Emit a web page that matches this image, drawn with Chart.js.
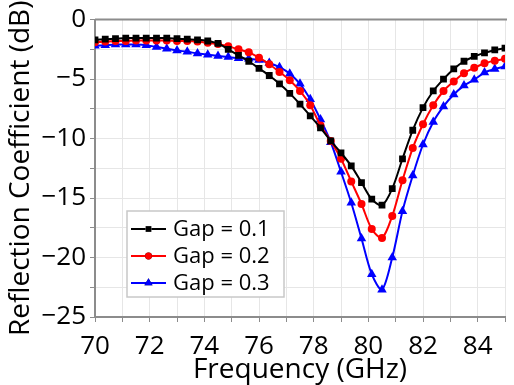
<!DOCTYPE html>
<html>
<head>
<meta charset="utf-8">
<script src="https://cdn.jsdelivr.net/npm/chart.js@4.4.1/dist/chart.umd.min.js"></script>
<style>
  html, body { margin: 0; padding: 0; background: #fff; }
  #wrap { width: 514px; height: 385px; }
</style>
</head>
<body>
<div id="wrap"><canvas id="grafico"></canvas></div>
<script>
// frecuencias 70 -> 85 GHz, paso 0.375
const frecuencias = [
  70, 70.375, 70.75, 71.125, 71.5, 71.875, 72.25, 72.625, 73, 73.375,
  73.75, 74.125, 74.5, 74.875, 75.25, 75.625, 76, 76.375, 76.75, 77.125,
  77.5, 77.875, 78.25, 78.625, 79, 79.375, 79.75, 80.125, 80.5, 80.875,
  81.25, 81.625, 82, 82.375, 82.75, 83.125, 83.5, 83.875, 84.25, 84.625, 85
];

const gap01 = [
  -1.7, -1.65, -1.6, -1.55, -1.55, -1.55, -1.55, -1.55, -1.6, -1.65,
  -1.7, -1.8, -2.0, -2.5, -3.0, -3.5, -4.1, -4.7, -5.4, -6.2,
  -7.1, -8.1, -9.1, -10.2, -11.2, -12.3, -13.7, -15.1, -15.6, -14.2,
  -11.7, -9.3, -7.4, -6.0, -5.0, -4.15, -3.5, -3.1, -2.8, -2.55, -2.4
];

const gap02 = [
  -1.9, -1.85, -1.8, -1.8, -1.75, -1.75, -1.75, -1.75, -1.8, -1.8,
  -1.85, -1.95, -2.05, -2.25, -2.5, -2.75, -3.2, -3.75, -4.4, -5.1,
  -6.0, -7.2, -8.9, -10.2, -11.7, -13.6, -15.5, -17.6, -18.35, -16.5,
  -13.5, -10.8, -8.8, -7.2, -6.0, -5.2, -4.5, -4.05, -3.67, -3.45, -3.3
];

const gap03 = [
  -2.2, -2.15, -2.1, -2.1, -2.1, -2.15, -2.3, -2.45, -2.6, -2.7,
  -2.85, -2.95, -3.05, -3.15, -3.25, -3.3, -3.4, -3.65, -4.0, -4.55,
  -5.4, -6.7, -8.4, -10.3, -12.8, -15.4, -18.4, -21.4, -22.7, -20.0,
  -16.1, -13.1, -10.5, -8.6, -7.3, -6.3, -5.55, -5.05, -4.45, -4.15, -3.95
];

const etiquetas = ['Gap = 0.1', 'Gap = 0.2', 'Gap = 0.3'];
const colores = ['#000000', '#ff0000', '#0000ff'];
const marcadores = ['rect', 'circle', 'triangle'];
const radios = [4.8, 4, 5.5];

const fuente = "'Open Sans', 'DejaVu Sans', sans-serif";

function serie(valores, i) {
  return {
    label: etiquetas[i],
    data: frecuencias.map((f, k) => ({ x: f, y: valores[k] })),
    borderColor: colores[i],
    backgroundColor: colores[i],
    borderWidth: 2,
    pointStyle: marcadores[i],
    pointRadius: radios[i],
    pointBorderWidth: 0,
    tension: 0.3
  };
}

// leyenda dentro del area del grafico
const leyenda = {
  id: 'leyenda',
  afterDraw(chart) {
    const ctx = chart.ctx;
    const x0 = 127, y0 = 211, w = 157, h = 86;
    ctx.save();
    ctx.fillStyle = '#fff';
    ctx.fillRect(x0, y0, w, h);
    ctx.strokeStyle = '#c8c8c8';
    ctx.lineWidth = 1.5;
    ctx.strokeRect(x0, y0, w, h);
    ctx.font = '22px ' + fuente;
    ctx.textBaseline = 'middle';
    chart.data.datasets.forEach((ds, i) => {
      const y = 229 + i * 27;
      ctx.strokeStyle = ds.borderColor;
      ctx.lineWidth = 2;
      ctx.beginPath();
      ctx.moveTo(131, y);
      ctx.lineTo(166, y);
      ctx.stroke();
      Chart.helpers.drawPoint(ctx, { pointStyle: ds.pointStyle, radius: ds.pointRadius * 0.85, borderWidth: 0 }, 148.5, y);
      ctx.fillStyle = ds.borderColor;
      ctx.fill();
      ctx.fillStyle = '#000';
      ctx.fillText(ds.label, 173, y + 1);
    });
    ctx.restore();
  }
};

// linea gris superior
const bordeSuperior = {
  id: 'bordeSuperior',
  afterDatasetsDraw(chart) {
    const { ctx, chartArea } = chart;
    ctx.save();
    ctx.strokeStyle = '#8c8c8c';
    ctx.lineWidth = 2;
    ctx.beginPath();
    ctx.moveTo(chartArea.left, chartArea.top);
    ctx.lineTo(chartArea.right + 2, chartArea.top);
    ctx.stroke();
    ctx.restore();
  }
};

new Chart(document.getElementById('grafico'), {
  type: 'line',
  data: { datasets: [serie(gap01, 0), serie(gap02, 1), serie(gap03, 2)] },
  options: {
    responsive: true,
    maintainAspectRatio: false,
    animation: false,
    layout: { padding: { top: 19, right: 0, left: 0, bottom: 0 } },
    plugins: { legend: { display: false }, tooltip: { enabled: false } },
    scales: {
      x: {
        type: 'linear',
        min: 70,
        max: 85,
        afterFit(s) { s.height = 68; },
        border: { color: '#8c8c8c', width: 2 },
        grid: { color: '#e6e6e6', tickColor: '#8c8c8c', tickLength: 5, lineWidth: 1 },
        ticks: {
          stepSize: 1,
          autoSkip: false,
          maxRotation: 0,
          padding: 9,
          color: '#000',
          font: { size: 26, family: fuente },
          callback: v => (v % 2 === 0 && v < 85) ? v : ''
        },
        title: {
          display: true,
          text: 'Frequency (GHz)',
          color: '#000',
          font: { size: 28, family: fuente, lineHeight: 1 },
          padding: { top: 0, bottom: 1 }
        }
      },
      y: {
        min: -25,
        max: 0,
        afterFit(s) { s.width = 95; },
        border: { color: '#8c8c8c', width: 2 },
        grid: { color: '#e6e6e6', tickColor: '#8c8c8c', tickLength: 5, lineWidth: 1 },
        ticks: {
          stepSize: 2.5,
          autoSkip: false,
          padding: 4,
          color: '#000',
          font: { size: 26, family: fuente },
          callback: v => (v % 5 === 0) ? (v < 0 ? '\u2212' + Math.abs(v) : String(v)) : ''
        },
        title: {
          display: true,
          text: 'Reflection Coefficient (dB)',
          color: '#000',
          font: { size: 28, family: fuente, lineHeight: 1 },
          padding: { top: 7, bottom: 0 }
        }
      }
    }
  },
  plugins: [bordeSuperior, leyenda]
});
</script>
</body>
</html>
